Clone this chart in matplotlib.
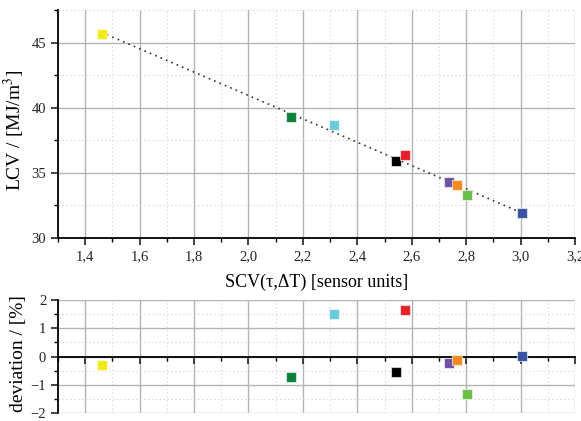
import numpy as np
import matplotlib
matplotlib.use("Agg")
import matplotlib.pyplot as plt
from matplotlib.ticker import MultipleLocator, FixedLocator

plt.rcParams['font.family'] = ['Liberation Serif', 'DejaVu Serif']
plt.rcParams['mathtext.fontset'] = 'stix'

# data
scv = [1.46, 2.155, 2.313, 2.541, 2.574, 2.738, 2.766, 2.802, 3.004]
lcv = [45.65, 39.28, 38.69, 35.88, 36.38, 34.26, 34.03, 33.31, 31.92]
deviation = [-0.30, -0.71, 1.52, -0.54, 1.65, -0.22, -0.14, -1.32, 0.01]
colors = ['#f3ea1a', '#0f7f3c', '#6bcbdc', '#000000', '#e8202a',
          '#6f52a0', '#f58b20', '#6abf45', '#3852a3']
x_ticks = [1.4, 1.6, 1.8, 2.0, 2.2, 2.4, 2.6, 2.8, 3.0, 3.2]
x_tick_labels = ['1,4', '1,6', '1,8', '2,0', '2,2', '2,4', '2,6', '2,8', '3,0', '3,2']
top_y_ticks = [30, 35, 40, 45]
bot_y_ticks = [-2, -1, 0, 1, 2]

fig = plt.figure(figsize=(5.81, 4.21), dpi=100)
ax1 = fig.add_axes([58/581, 1-238/421, (575-58)/581, (238-10)/421])
ax2 = fig.add_axes([58/581, 1-413/421, (575-58)/581, (413-300)/421])

major_grid = dict(color='#b4b4b4', linewidth=1.0)
minor_grid = dict(color='#d6d6d6', linewidth=0.7, linestyle=(0, (1.5, 2.5)))

for ax in (ax1, ax2):
    ax.set_xlim(1.3, 3.2)
    ax.xaxis.set_major_locator(FixedLocator(x_ticks))
    ax.xaxis.set_minor_locator(MultipleLocator(0.1))
    ax.grid(True, which='major', **major_grid)
    ax.grid(True, which='minor', **minor_grid)
    ax.set_axisbelow(True)
    ax.spines['top'].set_visible(False)
    ax.spines['right'].set_visible(False)
    ax.spines['left'].set_linewidth(1.3)
    ax.spines['bottom'].set_linewidth(1.3)
    ax.tick_params(which='major', length=5, width=1.2, direction='out', labelsize=10.5, colors='#222222')
    ax.tick_params(which='minor', length=3, width=1.0, direction='out')

# top panel
ax1.set_ylim(30, 47.5)
ax1.yaxis.set_major_locator(FixedLocator(top_y_ticks))
ax1.yaxis.set_minor_locator(MultipleLocator(2.5))
ax1.set_xticklabels(x_tick_labels)
coef = np.polyfit(scv, lcv, 1)
xl = np.array([min(scv), max(scv)])
ax1.plot(xl, np.polyval(coef, xl), color='#333333', linestyle=(0, (1, 2.5)), linewidth=1.2, zorder=2)
for xv, yv, c in zip(scv, lcv, colors):
    ax1.plot(xv, yv, marker='s', markersize=7.5, color=c, markeredgecolor=(1, 1, 1, 0.6),
             markeredgewidth=0.8, linestyle='none', zorder=3)
ax1.set_ylabel('LCV / [MJ/m$^3$]', fontsize=14)
ax1.set_xlabel('SCV(τ,ΔT) [sensor units]', fontsize=13)
ax1.xaxis.labelpad = 8

# bottom panel
ax2.set_ylim(-2, 2)
ax2.yaxis.set_major_locator(FixedLocator(bot_y_ticks))
ax2.yaxis.set_minor_locator(MultipleLocator(0.5))
ax2.spines['bottom'].set_position(('data', 0))
ax2.tick_params(axis='x', which='both', labelbottom=False)
for xv, yv, c in zip(scv, deviation, colors):
    ax2.plot(xv, yv, marker='s', markersize=7.5, color=c, markeredgecolor=(1, 1, 1, 0.6),
             markeredgewidth=0.8, linestyle='none', zorder=3, clip_on=False)
ax2.set_ylabel('deviation / [%]', fontsize=14)
ax2.yaxis.set_label_coords(-0.06, 0.53)
ax1.yaxis.set_label_coords(-0.06, 0.47)

fig.savefig('out.png', dpi=100)
